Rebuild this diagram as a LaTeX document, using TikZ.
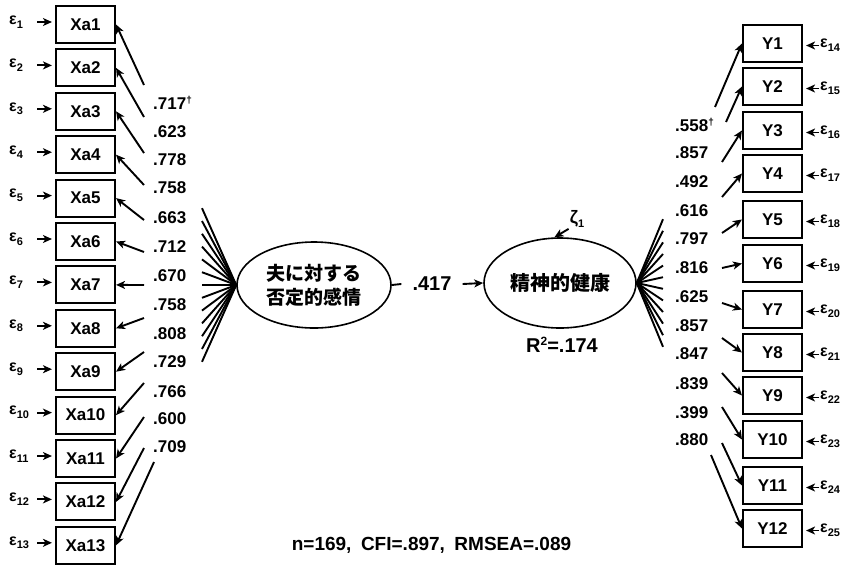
\documentclass[tikz,border=0pt]{standalone}
\usepackage{fontspec}
\setmainfont{Liberation Sans}
\newfontfamily\cjk{Noto Sans CJK JP}
\usetikzlibrary{arrows.meta,shapes.geometric,calc}
\newcommand\mysub[1]{\raisebox{-0.45ex}{\fontsize{11}{11}\selectfont #1}}
\newcommand\mydag{\raisebox{0.75ex}{\fontsize{10}{10}\selectfont †}}
\begin{document}
\begin{tikzpicture}[x=1pt,y=-1pt,
  every node/.style={font=\bfseries\fontsize{17}{19}\selectfont},
  obs/.style={draw,line width=2.1pt,minimum width=59pt,minimum height=37pt,inner sep=0pt},
  lat/.style={draw,ellipse,line width=1.6pt,inner sep=0pt},
  arr/.style={line width=1.9pt,-{Stealth[length=9pt,width=8pt,inset=2.5pt]}},
  fan/.style={line width=1.9pt},
  epsl/.style={font=\bfseries\fontsize{16}{18}\selectfont,inner sep=1pt,text width=25pt,align=left,anchor=west},
  epsr/.style={font=\bfseries\fontsize{16}{18}\selectfont,inner sep=1pt,anchor=west},
  lab/.style={anchor=west,inner sep=0pt},
  big/.style={font=\bfseries\fontsize{20}{22}\selectfont},
]
\useasboundingbox (0,0) rectangle (845,568);

% latent variables
\node[lat,minimum width=154pt,minimum height=86pt,align=center,
      font=\cjk\bfseries\fontsize{19}{24}\selectfont] (L) at (314,285) {夫に対する\\否定的感情};
\node[lat,minimum width=152pt,minimum height=90pt,
      font=\cjk\bfseries\fontsize{20}{22}\selectfont] (R) at (560,283) {精神的健康};

% path between latents
\node[big,inner xsep=11pt,inner ysep=0pt] (k) at (432,284) {.417};
\draw[fan] (L.east) -- (k.west);
\draw[arr] (k.east) -- (R.west);

% disturbance
\node[inner sep=1pt,font=\bfseries\fontsize{18}{20}\selectfont] (z) at (577,219) {ζ\mysub{1}};
\draw[arr] (z.south west) -- (R.97);
\node[big] (r2) at (562,345) {R\raisebox{0.7ex}{\fontsize{12}{12}\selectfont 2}=.174};

% left indicators
\foreach \i in {1,...,13} {
  \node[obs] (X\i) at (85.5,{24.5+(\i-1)*43.4}) {Xa\i};
  \node[epsl] (e\i) at (8,{22+(\i-1)*43.4}) {ε\mysub{\i}};
  \draw[arr,shorten <=2pt,shorten >=3pt] (e\i.east) -- (e\i.east -| X\i.west);
  \coordinate (f\i) at (202,{285+(\i-7)*12.8});
  \draw[fan] (L.west) -- (f\i);
}
\foreach \i/\ax/\ay in {1/144/85,2/144/117,3/144/153,4/144/185,5/144/220,6/144/252,
  7/144/285,8/144/318,9/144/352,10/144/383,11/144/417,12/144/448,13/154/462} {
  \coordinate (a\i) at (\ax,\ay);
  \draw[arr] (a\i) -- (X\i.east);
}
\foreach \i/\t/\y in {1/{.717\mydag}/103,2/.623/132,3/.778/160,4/.758/188,5/.663/218,
  6/.712/247,7/.670/276,8/.758/305,9/.808/334,10/.729/362,11/.766/392,12/.600/419,13/.709/447} {
  \node[lab] (l\i) at (153,\y) {\t};
}

% right indicators
\foreach \j/\y in {1/43.5,2/86.5,3/130.5,4/173.5,5/219.5,6/263.5,7/309.5,8/352.5,
  9/395.5,10/439.5,11/485.5,12/528.5} {
  \pgfmathtruncatemacro\en{\j+13}
  \node[obs] (Y\j) at (772.5,\y) {Y\j};
  \node[epsr] (d\j) at (819,{\y+2}) {ε\mysub{\en}};
  \draw[arr,shorten >=3pt] (d\j.west) -- (d\j.west -| Y\j.east);
  \coordinate (g\j) at (663,{283+(\j-6.5)*11.6});
  \draw[fan] (R.east) -- (g\j);
}
\foreach \j/\bx/\by in {1/715/107,2/726/122,3/722/162,4/722/197,5/722/233,6/722/268,
  7/722/303,8/722/338,9/722/373,10/722/407,11/722/443,12/711/455} {
  \coordinate (b\j) at (\bx,\by);
  \draw[arr] (b\j) -- (Y\j.west);
}
\foreach \j/\t/\y in {1/{.558\mydag}/125,2/.857/153,3/.492/182,4/.616/211,5/.797/239,
  6/.816/268,7/.625/297,8/.857/326,9/.847/354,10/.839/384,11/.399/413,12/.880/440} {
  \node[lab] (m\j) at (675,\y) {\t};
}

% fit indices
\node[font=\bfseries\fontsize{19}{21}\selectfont] (fit) at (431.5,545)
  {n=169,\hspace{0.5em}CFI=.897,\hspace{0.5em}RMSEA=.089};
\end{tikzpicture}
\end{document}
